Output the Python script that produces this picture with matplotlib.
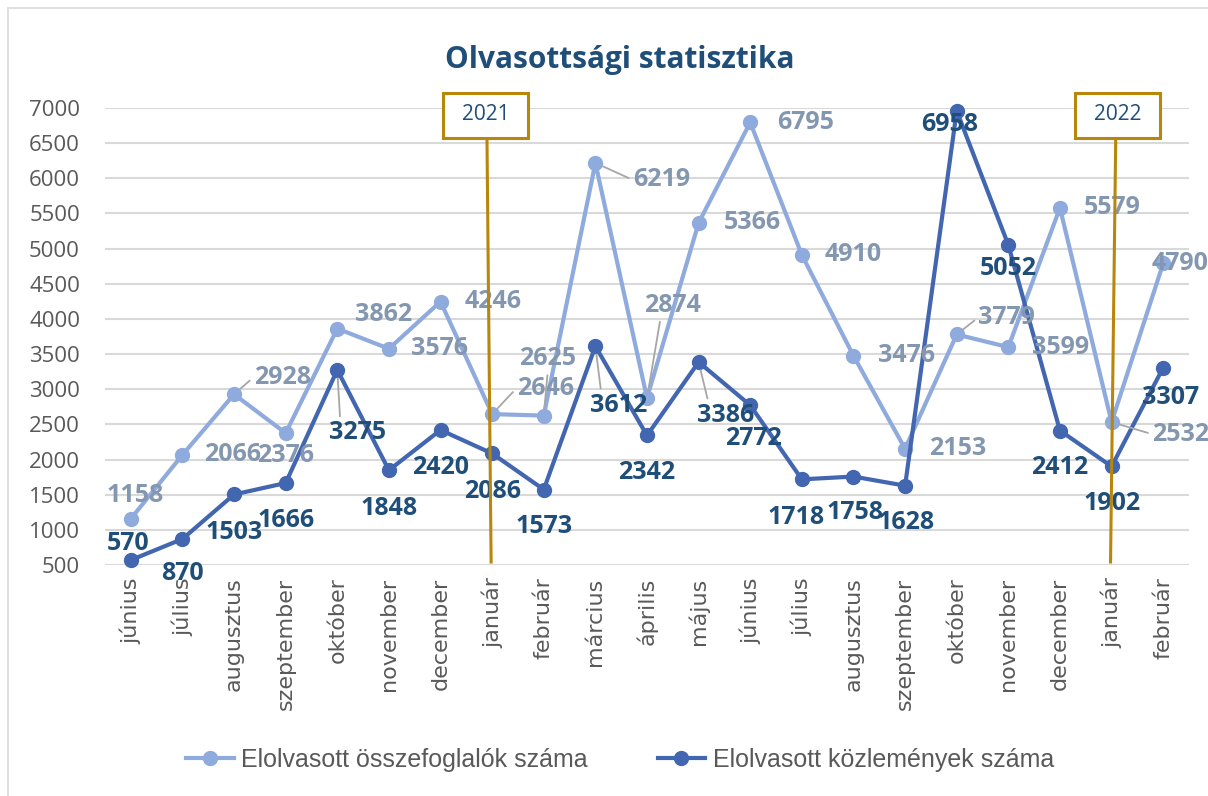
import matplotlib
matplotlib.use("Agg")
import matplotlib.pyplot as plt
import matplotlib.transforms as mtransforms
from matplotlib.patches import Rectangle

# adatok
honapok = ["június", "július", "augusztus", "szeptember", "október", "november",
           "december", "január", "február", "március", "április", "május", "június",
           "július", "augusztus", "szeptember", "október", "november", "december",
           "január", "február"]
osszefoglalok = [1158, 2066, 2928, 2376, 3862, 3576, 4246, 2646, 2625, 6219, 2874,
                 5366, 6795, 4910, 3476, 2153, 3779, 3599, 5579, 2532, 4790]
kozlemenyek = [570, 870, 1503, 1666, 3275, 1848, 2420, 2086, 1573, 3612, 2342,
               3386, 2772, 1718, 1758, 1628, 6958, 5052, 2412, 1902, 3307]
evek = ["2021", "2022"]
ev_honap = [7, 19]
y_ticks = list(range(500, 7001, 500))

# cimkek elhelyezese (pixel eltolas, y lefele) - Excel szerinti elrendezes
vil_off = [(4, -23), (50, 0), (48, -17), (0, 22), (46, -14), (51, 0), (53, 0),
           (53, -26), (4, -57), (66, 17), (25, -93), (54, 0), (55, 0), (51, 0),
           (53, 0), (53, 0), (50, -17), (52, 0), (52, 0), (69, 12), (17, 0)]
sot_off = [(-3, -17), (0, 35), (0, 38), (0, 37), (20, 63), (0, 38), (0, 37),
           (0, 38), (0, 37), (23, 59), (0, 37), (27, 53), (3, 33), (-6, 38),
           (2, 36), (1, 37), (-7, 14), (0, 24), (0, 37), (0, 37), (7, 30)]
# vezetovonalak: index -> relpos
vil_vezeto = {2: (0, 0.5), 7: (0, 0.5), 8: (0.5, 0), 9: (0, 0.5), 10: (0.3, 0),
              16: (0, 0.5), 19: (0, 0.5)}
sot_vezeto = {4: (0.2, 1), 9: (0.2, 1), 11: (0.2, 1)}

VILAGOS = "#8FAADC"
SOTET = "#4266B0"
VIL_CIMKE = "#8497B0"
SOT_CIMKE = "#1F4E79"
ARANY = "#B8860B"
SZURKE = "#595959"

fig = plt.figure(figsize=(12.08, 7.96), dpi=100)
ax = fig.add_axes([105 / 1208, 1 - 565 / 796, 1084 / 1208, 457 / 796])

x = list(range(len(honapok)))
ax.plot(x, osszefoglalok, color=VILAGOS, lw=3, marker="o", ms=10,
        label="Elolvasott összefoglalók száma", clip_on=False, zorder=3)
ax.plot(x, kozlemenyek, color=SOTET, lw=3, marker="o", ms=10,
        label="Elolvasott közlemények száma", clip_on=False, zorder=4)

def cimkez(ertekek, eltol, vezeto, szin):
    for i, v in enumerate(ertekek):
        dx, dy = eltol[i]
        ap = None
        if i in vezeto:
            ap = dict(arrowstyle="-", color="#A6A6A6", lw=1.3,
                      relpos=vezeto[i], shrinkA=1, shrinkB=6)
        ax.annotate(str(v), xy=(i, v), xytext=(dx, -dy), textcoords="offset pixels",
                    ha="center", va="center", fontsize=18, fontweight="bold",
                    color=szin, family="Open Sans", arrowprops=ap,
                    annotation_clip=False, zorder=5)

cimkez(osszefoglalok, vil_off, vil_vezeto, VIL_CIMKE)
cimkez(kozlemenyek, sot_off, sot_vezeto, SOT_CIMKE)

ax.set_xlim(-0.5, len(honapok) - 0.5)
ax.set_ylim(500, 7000)
ax.set_yticks(y_ticks)
ax.set_yticklabels([str(t) for t in y_ticks], family="Open Sans", fontsize=16,
                   color=SZURKE)
ax.set_xticks(x)
ax.set_xticklabels(honapok, rotation=90, family="DejaVu Sans", fontsize=16,
                   color=SZURKE)
ax.tick_params(axis="y", length=0, pad=18)
ax.tick_params(axis="x", length=0, pad=9)
ax.grid(axis="y", color="#D9D9D9", lw=1.5)
ax.set_axisbelow(True)
for s in ax.spines.values():
    s.set_visible(False)

# evhatarok
trans = mtransforms.blended_transform_factory(ax.transData, fig.transFigure)
doboz_eltol = [-0.13, 0.12]
doles = [(-0.1, -0.02), (0.08, -0.02)]
for ev, idx, bx, (t, b) in zip(evek, ev_honap, doboz_eltol, doles):
    ax.plot([idx + t, idx + b], [6545, 543], color=ARANY, lw=2.2, clip_on=False,
            zorder=6)
    cx = idx + bx
    fig.add_artist(Rectangle((cx - 0.825, 1 - 138 / 796), 1.65, 45 / 796,
                             transform=trans, fill=True, fc="white", ec=ARANY,
                             lw=2.2, zorder=7))
    fig.text(cx, 1 - 115 / 796, ev, transform=trans, ha="center", va="center",
             fontsize=15, color=SOT_CIMKE, family="Open Sans", zorder=8)

fig.text(620 / 1208, 1 - 60 / 796, "Olvasottsági statisztika", ha="center",
         va="center", fontsize=21.5, fontweight="bold", color=SOT_CIMKE,
         family="Open Sans")

leg = fig.legend(loc="center", bbox_to_anchor=(620 / 1208, 1 - 760 / 796), ncol=2,
                 frameon=False, handlelength=1.9, handletextpad=0.3,
                 columnspacing=2.8,
                 prop={"family": "Liberation Sans", "size": 18})
for t in leg.get_texts():
    t.set_color(SZURKE)

# diagram keret
fig.add_artist(Rectangle((8 / 1208, -0.05), 1.1, 1.05 - 8 / 796,
                         transform=fig.transFigure, fill=False, ec="#D9D9D9",
                         lw=1.2))

fig.savefig("out.png", dpi=100)
